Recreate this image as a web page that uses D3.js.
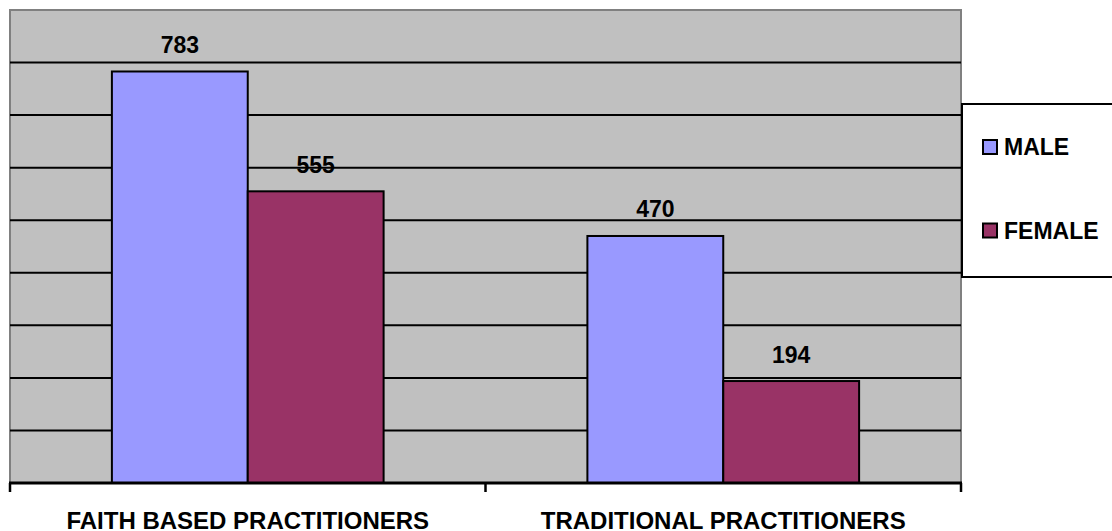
<!DOCTYPE html>
<html>
<head>
<meta charset="utf-8">
<script src="https://cdn.jsdelivr.net/npm/d3@7"></script>
<style>
  body { margin: 0; background: #fff; }
  svg text { font-family: Arial, "Liberation Sans", sans-serif; font-weight: bold; fill: #000; }
</style>
</head>
<body>
<svg width="1112" height="531"></svg>
<script>
var categories = ["FAITH BASED PRACTITIONERS", "TRADITIONAL PRACTITIONERS"];
var seriesNames = ["MALE", "FEMALE"];
var maleValues = [783, 470];
var femaleValues = [555, 194];
var gridTicks = [100, 200, 300, 400, 500, 600, 700, 800];

var colors = { "MALE": "#9999FF", "FEMALE": "#993366" };

var svg = d3.select("svg"),
    plotLeft = 10, plotRight = 961, plotTop = 10, plotBottom = 483;

var rows = categories.map(function(c, i) {
    return { cat: c, vals: [
        { name: "MALE", value: maleValues[i] },
        { name: "FEMALE", value: femaleValues[i] }
    ]};
});

var x0 = d3.scaleBand().domain(categories).range([plotLeft, plotRight]).padding(0);
var x1 = d3.scaleBand().domain(seriesNames).range([0, x0.bandwidth()])
    .paddingInner(0).paddingOuter(0.75);
var y = d3.scaleLinear().domain([0, 900]).range([plotBottom, plotTop]);

// plot area
svg.append("rect")
    .attr("x", plotLeft).attr("y", plotTop)
    .attr("width", plotRight - plotLeft).attr("height", plotBottom - plotTop)
    .attr("fill", "#C0C0C0")
    .attr("stroke", "#808080").attr("stroke-width", 2);

// gridlines
svg.append("g").selectAll("line")
    .data(gridTicks)
    .enter().append("line")
    .attr("x1", plotLeft).attr("x2", plotRight)
    .attr("y1", function(d) { return y(d); })
    .attr("y2", function(d) { return y(d); })
    .attr("stroke", "#000").attr("stroke-width", 2);

// bars
var groups = svg.append("g").selectAll("g")
    .data(rows)
    .enter().append("g")
    .attr("transform", function(d) { return "translate(" + x0(d.cat) + ",0)"; });

groups.selectAll("rect")
    .data(function(d) { return d.vals; })
    .enter().append("rect")
    .attr("x", function(d) { return x1(d.name); })
    .attr("y", function(d) { return y(d.value); })
    .attr("width", x1.bandwidth())
    .attr("height", function(d) { return plotBottom - y(d.value); })
    .attr("fill", function(d) { return colors[d.name]; })
    .attr("stroke", "#000").attr("stroke-width", 2);

groups.selectAll("text")
    .data(function(d) { return d.vals; })
    .enter().append("text")
    .attr("x", function(d) { return x1(d.name) + x1.bandwidth() / 2; })
    .attr("y", function(d) { return y(d.value) - 18.5; })
    .attr("text-anchor", "middle")
    .style("font-size", "23px")
    .text(function(d) { return d.value; });

// x axis
var xAxis = svg.append("g");
xAxis.append("line")
    .attr("x1", plotLeft - 1).attr("x2", plotRight + 1)
    .attr("y1", plotBottom).attr("y2", plotBottom)
    .attr("stroke", "#000").attr("stroke-width", 3);
xAxis.selectAll(".tick")
    .data([plotLeft, x0(categories[1]), plotRight])
    .enter().append("line")
    .attr("x1", function(d) { return d; }).attr("x2", function(d) { return d; })
    .attr("y1", plotBottom).attr("y2", plotBottom + 9)
    .attr("stroke", "#000").attr("stroke-width", 2.5);
xAxis.selectAll("text")
    .data(categories)
    .enter().append("text")
    .attr("x", function(d) { return x0(d) + x0.bandwidth() / 2; })
    .attr("y", 529)
    .attr("text-anchor", "middle")
    .style("font-size", "24px")
    .text(function(d) { return d; });

// legend
var legend = svg.append("g");
legend.append("rect")
    .attr("x", 962).attr("y", 104)
    .attr("width", 170).attr("height", 173)
    .attr("fill", "#fff")
    .attr("stroke", "#000").attr("stroke-width", 2);

var items = legend.selectAll(".item")
    .data(seriesNames)
    .enter().append("g")
    .attr("class", "item")
    .attr("transform", function(d, i) { return "translate(0," + (147 + i * 83.5) + ")"; });
items.append("rect")
    .attr("x", 983).attr("y", -7)
    .attr("width", 14).attr("height", 14)
    .attr("fill", function(d) { return colors[d]; })
    .attr("stroke", "#000").attr("stroke-width", 2);
items.append("text")
    .attr("x", 1004).attr("y", 8)
    .style("font-size", "23px")
    .text(function(d) { return d; });
</script>
</body>
</html>
